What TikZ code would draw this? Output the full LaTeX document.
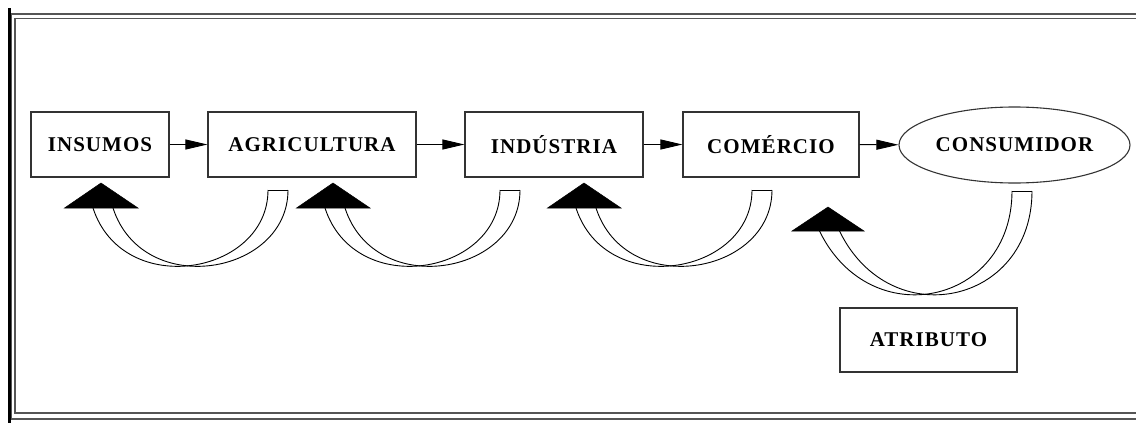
\documentclass[tikz,border=0pt]{standalone}
\usepackage{fontspec}
\setmainfont{Liberation Serif}
\newfontfamily\lblfont[LetterSpace=5]{Liberation Serif}
\usetikzlibrary{arrows.meta,shapes.geometric,calc}
\definecolor{framegray}{HTML}{555555}
\definecolor{boxgray}{HTML}{333333}
\tikzset{
  box/.style={draw=boxgray, line width=1.1pt, rectangle, inner sep=0pt,
    minimum height=65pt, font=\lblfont\fontsize{21}{24}\selectfont\bfseries},
  oval/.style={draw=boxgray, line width=1.1pt, ellipse, inner sep=0pt,
    minimum width=231pt, minimum height=76pt, font=\lblfont\fontsize{21}{24}\selectfont\bfseries},
  arr/.style={draw=black, line width=1pt, -{Triangle[length=22pt,width=10pt]}},
  fatline/.style={draw=black, line width=0.9pt},
  framel/.style={draw=framegray, line width=1.3pt},
  tri/.style={fill=black, draw=black, line width=0.5pt}
}
\begin{document}
\begin{tikzpicture}[x=1pt,y=-1pt]
\useasboundingbox (0,0) rectangle (1136,423);
% frame
\draw[line width=3pt, black] (9.5,8) -- (9.5,423);
\draw[framel] (1136,14) -- (11.5,14) -- (11.5,419) -- (1136,419);
\draw[framel] (1136,18.5) -- (15,18.5) -- (15,413) -- (1136,413);
% nodes
\node[box, minimum width=138pt] (ins) at (100,144.5) {INSUMOS};
\node[box, minimum width=208pt] (agr) at (312,144.5) {AGRICULTURA};
\node[box, minimum width=178pt] (ind) at (554,144.5) {INDÚSTRIA};
\node[box, minimum width=176pt] (com) at (771,144.5) {COMÉRCIO};
\node[oval] (cons) at (1014.5,145) {CONSUMIDOR};
\node[box, minimum width=177pt, minimum height=64pt] (atr) at (928.5,340) {ATRIBUTO};
% forward arrows
\draw[arr] (ins) -- (agr);
\draw[arr] (agr) -- (ind);
\draw[arr] (ind) -- (com);
\draw[arr] (com) -- (cons);
% feedback tails and heads
\coordinate (t1) at (278,190);  \coordinate (h1) at (103,208);
\coordinate (t2) at (510,190);  \coordinate (h2) at (335,208);
\coordinate (t3) at (762,190);  \coordinate (h3) at (586,208);
\coordinate (t4) at (1022,191); \coordinate (h4) at (829.5,231);
\foreach \t/\h in {t1/h1, t2/h2, t3/h3}{
  \foreach \s in {-10,10}{
    \draw[fatline] ($(\t)+(\s,0)$) .. controls ($(\t)+(\s,85)$) and ($(\h)+(30+\s,92)$) .. ($(\h)+(\s,0)$);
  }
  \draw[fatline] ($(\t)+(-10,0)$) -- ($(\t)+(10,0)$);
  \fill[tri] ($(\h)+(-38.5,0)$) -- ($(\h)+(-2,-25)$) -- ($(\h)+(35,0)$) -- cycle;
}
\foreach \s in {-10,10}{
  \draw[fatline] ($(t4)+(\s,0)$) .. controls ($(t4)+(\s,114)$) and ($(h4)+(50.5+\s,104)$) .. ($(h4)+(\s,0)$);
}
\draw[fatline] ($(t4)+(-10,0)$) -- ($(t4)+(10,0)$);
\fill[tri] ($(h4)+(-37.5,0)$) -- ($(h4)+(-1.5,-24)$) -- ($(h4)+(34.5,0)$) -- cycle;
\end{tikzpicture}
\end{document}
